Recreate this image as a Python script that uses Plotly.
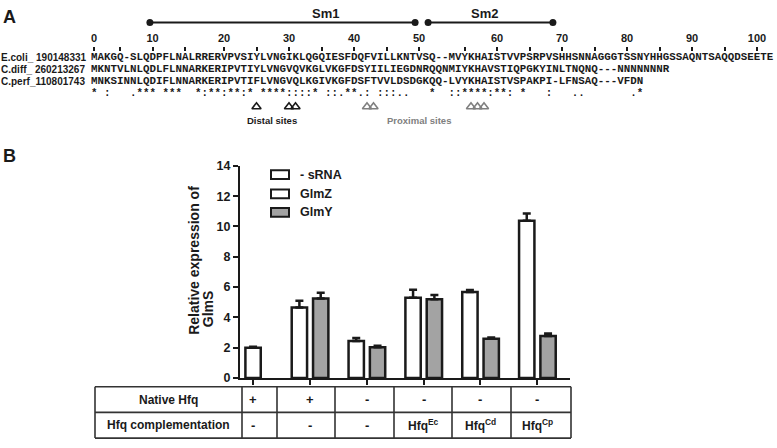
import plotly.graph_objects as go

W, H = 777, 448


def px(x):
    return x / W


def py(y):
    return 1 - y / H


FONT = "Liberation Sans, Arial, sans-serif"
MONO = "Liberation Mono, Courier New, monospace"
INK = "#1a1a1a"
GRAY_FILL = "#a3a3a3"
SITE_GRAY = "#808080"

# ---------------- Panel A data ----------------
seq_names = ["E.coli_ 190148331", "C.diff_ 260213267", "C.perf_110801743"]
sequences = [
    "MAKGQ-SLQDPFLNALRRERVPVSIYLVNGIKLQGQIESFDQFVILLKNTVSQ--MVYKHAISTVVPSRPVSHHSNNAGGGTSSNYHHGSSAQNTSAQQDSEETE",
    "MKNTVLNLQDLFLNNARKERIPVTIYLVNGVQVKGLVKGFDSYIILIEGDNRQQNMIYKHAVSTIQPGKYINLTNQNQ---NNNNNNNR",
    "MNKSINNLQDIFLNNARKERIPVTIFLVNGVQLKGIVKGFDSFTVVLDSDGKQQ-LVYKHAISTVSPAKPI-LFNSAQ---VFDN",
]
conservation = "".join([
    "* :   .***", " ***  *:**", ":**:* ****", "::::* ::.*", "*.: :::.. ",
    "  *  ::***", "*:**: *   ", ":   ..    ", "   .*",
])
ruler_major = [0, 9, 20, 30, 40, 50, 62, 72, 82, 92, 102]
ruler_labels = ["0", "10", "20", "30", "40", "50", "60", "70", "80", "90", "100"]
ruler_minor = [4, 14, 25, 35, 45, 57, 67, 77, 87, 97]
sm1_span = [8.6, 49.4]
sm2_span = [51.4, 70.6]
distal_sites = [25, 30, 31]
proximal_sites = [42, 43, 58, 59, 60]

# ---------------- Panel B data ----------------
conditions = ["WT, no sRNA", "WT", "\u0394hfq", "\u0394hfq + Hfq Ec", "\u0394hfq + Hfq Cd", "\u0394hfq + Hfq Cp"]
no_srna = [2.0]
no_srna_err = [0.06]
glmz = [4.65, 2.45, 5.3, 5.68, 10.38]
glmz_err = [0.45, 0.2, 0.52, 0.13, 0.47]
glmy = [5.25, 2.03, 5.2, 2.6, 2.78]
glmy_err = [0.37, 0.1, 0.28, 0.08, 0.16]
native_hfq = ["+", "+", "-", "-", "-", "-"]
complementation = ["-", "-", "-", "Hfq<sup>Ec</sup>", "Hfq<sup>Cd</sup>", "Hfq<sup>Cp</sup>"]
row_labels = ["Native Hfq", "Hfq complementation"]
legend_names = ["- sRNA", "GlmZ", "GlmY"]

fig = go.Figure()

bar_line = dict(color=INK, width=2.5)


def err(arr):
    return dict(type="data", symmetric=False, array=arr, arrayminus=[0] * len(arr),
                thickness=2.5, width=4, color=INK)


fig.add_trace(go.Bar(name=legend_names[0], x=conditions[:1], y=no_srna, width=0.27, offset=-0.135,
                     marker=dict(color="white", line=bar_line), error_y=err(no_srna_err),
                     xaxis="x", yaxis="y", showlegend=False))
fig.add_trace(go.Bar(name=legend_names[1], x=conditions[1:], y=glmz, width=0.27, offset=-0.32,
                     marker=dict(color="white", line=bar_line), error_y=err(glmz_err),
                     xaxis="x", yaxis="y", showlegend=False))
fig.add_trace(go.Bar(name=legend_names[2], x=conditions[1:], y=glmy, width=0.27, offset=0.055,
                     marker=dict(color=GRAY_FILL, line=bar_line), error_y=err(glmy_err),
                     xaxis="x", yaxis="y", showlegend=False))

# Panel A traces: Sm domains and binding sites
fig.add_trace(go.Scatter(x=[sm1_span[0], sm1_span[1], None, sm2_span[0], sm2_span[1]],
                         y=[0, 0, None, 0, 0], mode="lines+markers",
                         line=dict(color=INK, width=2), marker=dict(color=INK, size=7),
                         xaxis="x2", yaxis="y3", showlegend=False, hoverinfo="skip"))
fig.add_trace(go.Scatter(x=distal_sites, y=[0] * len(distal_sites), mode="markers",
                         marker=dict(symbol="triangle-up-open", size=8, color=INK, line=dict(width=1.6, color=INK)),
                         xaxis="x2", yaxis="y2", showlegend=False, hoverinfo="skip"))
fig.add_trace(go.Scatter(x=proximal_sites, y=[0] * len(proximal_sites), mode="markers",
                         marker=dict(symbol="triangle-up-open", size=8, color=SITE_GRAY,
                                     line=dict(width=1.6, color=SITE_GRAY)),
                         xaxis="x2", yaxis="y2", showlegend=False, hoverinfo="skip"))

ann = []
shapes = []


def text(x, y, s, size, color=INK, xanchor="center", weight="bold", family=FONT, xref="paper", angle=0):
    ann.append(dict(x=x, y=y, xref=xref, yref="paper", text=s, showarrow=False, xanchor=xanchor,
                    yanchor="middle", textangle=angle, borderpad=0, borderwidth=0,
                    font=dict(family=family, size=size, color=color, weight=weight)))


# Panel labels
text(px(9), py(10), "A", 18)
text(px(9), py(154), "B", 18)

# Sm labels
text(px(325), py(7), "Sm1", 13)
text(px(484), py(7), "Sm2", 13)

# sequence names and sequences
row_y = [52, 64.5, 76.5]
for name, seq, yy in zip(seq_names, sequences, row_y):
    text(px(1), py(yy), name, 10, xanchor="left")
    ann.append(dict(x=-0.5, y=py(yy), xref="x2", yref="paper", text=seq.replace(" ", "\u00a0"),
                    showarrow=False, xanchor="left", yanchor="middle", borderpad=0, borderwidth=0,
                    font=dict(family=MONO, size=10.83, color=INK, weight="bold")))
ann.append(dict(x=-0.5, y=py(89), xref="x2", yref="paper", text=conservation.replace(" ", "\u00a0"),
                showarrow=False, xanchor="left", yanchor="middle", borderpad=0, borderwidth=0,
                font=dict(family=MONO, size=10.83, color=INK, weight="bold")))

text(px(272), py(117), "Distal sites", 9.5)
text(px(419), py(117), "Proximal sites", 9.5, color=SITE_GRAY)

# Y title (two lines)
text(px(194), py(262), "Relative expression of", 14, angle=-90)
text(px(208), py(312), "GlmS", 14, angle=-90)

# Legend (manual)
leg_rows = [173, 193, 212]
leg_fill = ["white", "white", GRAY_FILL]
for name, yy, fill in zip(legend_names, leg_rows, leg_fill):
    shapes.append(dict(type="rect", xref="paper", yref="paper", x0=px(271), x1=px(289),
                       y0=py(yy + 4.5), y1=py(yy - 4.5), fillcolor=fill, line=dict(color=INK, width=2)))
    text(px(300), py(yy), name, 12.5, xanchor="left")

# Table
tab_left = 95
tab_right = 571
div_x = [242, 277, 335, 394, 452, 511]
row_edges = [392, 418.5, 445]
for yy in row_edges:
    shapes.append(dict(type="line", xref="paper", yref="paper", x0=px(tab_left), x1=px(tab_right),
                       y0=py(yy), y1=py(yy), line=dict(color="#333333", width=1.6)))
for xx in [tab_left] + div_x + [tab_right]:
    shapes.append(dict(type="line", xref="paper", yref="paper", x0=px(xx), x1=px(xx),
                       y0=py(row_edges[0]), y1=py(row_edges[-1]), line=dict(color="#333333", width=1.6)))
row_cy = [405.5, 431.5]
label_cx = (tab_left + div_x[0]) / 2
text(px(label_cx), py(row_cy[0]), row_labels[0], 12)
text(px(label_cx), py(row_cy[1]), row_labels[1], 12)
for cond, a, b in zip(conditions, native_hfq, complementation):
    for s, yy in ((a, row_cy[0]), (b, row_cy[1])):
        ann.append(dict(x=cond, y=py(yy), xref="x", yref="paper", text=s, showarrow=False,
                        xanchor="center", yanchor="middle",
                        font=dict(family=FONT, size=13 if s in "+-" else 12, color=INK, weight="bold")))

fig.update_layout(
    width=W, height=H, margin=dict(l=0, r=0, t=0, b=0),
    paper_bgcolor="white", plot_bgcolor="white",
    barmode="overlay", showlegend=False,
    font=dict(family=FONT, color=INK),
    xaxis=dict(domain=[px(240), px(570)], type="category", categoryorder="array", categoryarray=conditions,
               range=[-0.23, 5.576], showline=True, linewidth=2, linecolor=INK, ticks="outside",
               ticklen=5, tickwidth=2, tickcolor=INK, showticklabels=False, showgrid=False,
               zeroline=False, anchor="y", fixedrange=True),
    yaxis=dict(domain=[py(383), py(164)], range=[0, 14], dtick=2, showline=True, linewidth=2,
               linecolor=INK, ticks="outside", ticklen=5, tickwidth=2, tickcolor=INK,
               tickfont=dict(family=FONT, size=12.5, color=INK, weight="bold"),
               showgrid=False, zeroline=False, anchor="x", fixedrange=True),
    xaxis2=dict(domain=[0, 1], range=[-14.4615, 105.077], anchor="free", position=py(45), side="top",
                showline=False, ticks="outside", ticklen=4, tickwidth=1.6, tickcolor=INK,
                tickmode="array", tickvals=ruler_major, ticktext=ruler_labels,
                minor=dict(tickmode="array", tickvals=ruler_minor, ticks="outside", ticklen=4,
                           tickwidth=1.6, tickcolor=INK, showgrid=False),
                tickfont=dict(family=FONT, size=11, color=INK, weight="bold"),
                showgrid=False, zeroline=False, fixedrange=True),
    yaxis2=dict(domain=[py(109), py(97)], range=[-1, 1], visible=False, anchor="x2", fixedrange=True),
    yaxis3=dict(domain=[py(22), py(10)], range=[-1, 1], visible=False, anchor="x2", fixedrange=True),
    annotations=ann, shapes=shapes,
)

fig.write_html("out.html", config={"displayModeBar": False},
               post_script="document.body.style.margin='0px';")
